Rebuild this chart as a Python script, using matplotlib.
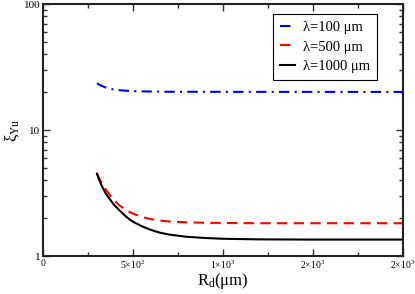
import matplotlib
matplotlib.use("Agg")
import matplotlib.pyplot as plt
from matplotlib.ticker import FixedLocator, FixedFormatter, LogLocator, NullFormatter

plt.rcParams['font.family'] = ['Liberation Serif', 'DejaVu Serif']
plt.rcParams['mathtext.fontset'] = 'custom'
plt.rcParams['mathtext.rm'] = 'Liberation Serif'
plt.rcParams['mathtext.it'] = 'Liberation Serif:italic'

R = [300, 310, 320, 330, 340, 350, 360, 375, 390, 400, 425, 450, 475, 500,
     550, 600, 650, 700, 800, 900, 1000, 1200, 1500, 2000]
xi_100 = [23.5, 23.0, 22.6, 22.3, 22.0, 21.7, 21.5, 21.2, 21.0, 20.9, 20.7, 20.55, 20.45, 20.35,
          20.25, 20.2, 20.15, 20.12, 20.1, 20.1, 20.08, 20.07, 20.06, 20.05]
xi_500 = [4.5, 4.2, 3.95, 3.72, 3.52, 3.35, 3.2, 3.0, 2.83, 2.73, 2.52, 2.38, 2.26, 2.17,
          2.04, 1.96, 1.91, 1.88, 1.85, 1.835, 1.83, 1.82, 1.82, 1.82]
xi_1000 = [4.5, 4.1, 3.78, 3.52, 3.3, 3.12, 2.97, 2.78, 2.6, 2.5, 2.3, 2.13, 1.98, 1.87,
           1.72, 1.61, 1.53, 1.48, 1.42, 1.39, 1.37, 1.355, 1.35, 1.35]

xticks = [0, 500, 1000, 1500, 2000]
xticklabels = ['0', r'5$\times$10$^{2}$', r'1$\times$10$^{3}$', r'2$\times$10$^{3}$', r'2$\times$10$^{3}$']
yticks = [1, 10, 100]
yticklabels = ['1', '10', '100']
labels = ['λ=100 μm', 'λ=500 μm', 'λ=1000 μm']

fig = plt.figure(figsize=(4.15, 2.94), dpi=100)
ax = fig.add_axes([43/415, 38/294, 360/415, 252/294])

ax.plot(R, xi_100, color='#0000ff', lw=1.5, linestyle=(0, (5, 2.5, 1, 2.5)), label=labels[0])
ax.plot(R, xi_500, color='#ff0000', lw=1.5, linestyle=(0, (5, 3)), label=labels[1])
ax.plot(R, xi_1000, color='black', lw=1.5, linestyle='-', label=labels[2])

ax.set_yscale('log')
ax.set_ylim(1, 100)
ax.set_xlim(0, 2000)

ax.xaxis.set_major_locator(FixedLocator(xticks))
ax.xaxis.set_major_formatter(FixedFormatter(xticklabels))
ax.xaxis.set_minor_locator(FixedLocator([250, 750, 1250, 1750]))
ax.yaxis.set_major_locator(FixedLocator(yticks))
ax.yaxis.set_major_formatter(FixedFormatter(yticklabels))
ax.yaxis.set_minor_locator(LogLocator(base=10, subs=range(2, 10), numticks=12))
ax.yaxis.set_minor_formatter(NullFormatter())

ax.tick_params(which='both', direction='in', top=True, right=True, width=1,
               colors='#333333', labelcolor='black', pad=2)
ax.tick_params(axis='x', labelsize=7)
ax.tick_params(axis='y', labelsize=8)
ax.tick_params(which='major', length=5)
ax.tick_params(which='minor', length=3)
for s in ax.spines.values():
    s.set_linewidth(1.5)
    s.set_color('#222222')

ax.set_xlabel(r'R$_{\rm d}$(μm)', fontsize=12, labelpad=0)
ax.set_ylabel(r'ξ$_{\rm Yu}$', fontsize=12, labelpad=1)

leg = ax.legend(loc='upper right', bbox_to_anchor=(334/360, 242/252), fontsize=10.5,
                frameon=True, fancybox=False, framealpha=1, edgecolor='black',
                handlelength=1.0, handletextpad=0.6, borderpad=0.45,
                labelspacing=0.45, borderaxespad=0)
leg.get_frame().set_linewidth(0.8)

fig.savefig('out.png', dpi=100)
